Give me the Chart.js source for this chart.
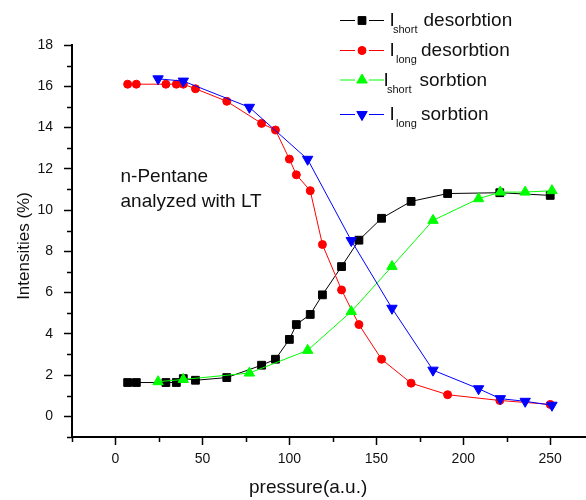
<!DOCTYPE html>
<html>
<head>
<meta charset="utf-8">
<script src="https://cdn.jsdelivr.net/npm/chart.js@4/dist/chart.umd.min.js"></script>
<style>
html, body { margin: 0; padding: 0; background: #fff; }
</style>
</head>
<body>
<canvas id="graficoPentano" width="586" height="500"></canvas>
<script>
/* ── DATA ── */
var presionDesorcion = [7, 12, 29, 35, 39, 46, 64, 84, 92, 100, 104, 112, 119, 130, 140, 153, 170, 191, 221, 250];
var cortoDesorcion   = [1.64, 1.64, 1.64, 1.64, 1.83, 1.75, 1.88, 2.48, 2.77, 3.73, 4.45, 4.94, 5.89, 7.26, 8.54, 9.6, 10.42, 10.8, 10.84, 10.71];
var largoDesorcion   = [16.1, 16.1, 16.1, 16.1, 16.1, 15.88, 15.27, 14.2, 13.88, 12.47, 11.71, 10.94, 8.33, 6.13, 4.45, 2.77, 1.61, 1.05, 0.77, 0.58];

var presionSorcion = [24.5, 39, 77, 110.5, 135.6, 159, 182.6, 208.8, 221.3, 235.6, 251];
var cortoSorcion   = [1.68, 1.79, 2.1, 3.2, 5.08, 7.27, 9.5, 10.55, 10.87, 10.87, 10.94];
var largoSorcion   = [16.36, 16.25, 14.98, 12.46, 8.52, 5.24, 2.24, 1.34, 0.86, 0.73, 0.54];

var ticksX = [-25, 0, 25, 50, 75, 100, 125, 150, 175, 200, 225, 250];

var nombresSeries = ['desorbtion', 'desorbtion', 'sorbtion', 'sorbtion'];
var subindices    = ['short', 'long', 'short', 'long'];
var notaTexto     = ['n-Pentane', 'analyzed with LT'];

var FUENTE = "'Liberation Sans', Arial, Helvetica, sans-serif";

function puntos(xs, ys) {
    return xs.map(function (x, i) { return { x: x, y: ys[i] }; });
}

/* ── estilos de la leyenda (posiciones medidas a mano) ── */
var leyenda = [
    { color: '#000000', estilo: 'rect',     radio: 5.5, rot: 0,   yLinea: 20,   base: 26,  xI: 389.5, xSub: 393,   xTxt: 423.5 },
    { color: '#ff0000', estilo: 'circle',   radio: 4,   rot: 0,   yLinea: 50,   base: 56,  xI: 389.5, xSub: 396,   xTxt: 421 },
    { color: '#00ff00', estilo: 'triangle', radio: 6,   rot: 0,   yLinea: 79.5, base: 86,  xI: 383.5, xSub: 387,   xTxt: 419.5 },
    { color: '#0000ff', estilo: 'triangle', radio: 6,   rot: 180, yLinea: 114,  base: 120, xI: 389.5, xSub: 396,   xTxt: 421 }
];

/* ── PLUGIN: ticks menores, títulos, nota y leyenda ── */
var extras = {
    id: 'extras',
    afterDraw: function (chart) {
        var ctx = chart.ctx;
        var sx = chart.scales.x, sy = chart.scales.y;
        var area = chart.chartArea;
        ctx.save();

        // ticks menores
        ctx.strokeStyle = '#000';
        ctx.lineWidth = 1.5;
        ctx.beginPath();
        sx.ticks.forEach(function (t) {
            if (t.value % 50 !== 0) {
                var px = Math.round(sx.getPixelForValue(t.value)) + 0.5;
                ctx.moveTo(px, area.bottom);
                ctx.lineTo(px, area.bottom + 5);
            }
        });
        sy.ticks.forEach(function (t) {
            if (t.value % 2 !== 0) {
                var py = Math.round(sy.getPixelForValue(t.value)) + 0.5;
                ctx.moveTo(area.left, py);
                ctx.lineTo(area.left - 5, py);
            }
        });
        ctx.stroke();

        // títulos de ejes
        ctx.fillStyle = '#111';
        ctx.textBaseline = 'alphabetic';
        ctx.textAlign = 'left';
        ctx.font = '19px ' + FUENTE;
        ctx.fillText('pressure(a.u.)', 249, 493);

        ctx.save();
        ctx.translate(29, 246);
        ctx.rotate(-Math.PI / 2);
        ctx.textAlign = 'center';
        ctx.font = '17px ' + FUENTE;
        ctx.fillText('Intensities (%)', 0, 0);
        ctx.restore();

        // nota
        ctx.font = '19px ' + FUENTE;
        ctx.fillText(notaTexto[0], 120.5, 182);
        ctx.fillText(notaTexto[1], 120.5, 207);

        // leyenda
        leyenda.forEach(function (l, i) {
            ctx.strokeStyle = l.color;
            ctx.lineWidth = 1;
            ctx.beginPath();
            ctx.moveTo(340, l.yLinea + 0.5);
            ctx.lineTo(355, l.yLinea + 0.5);
            ctx.moveTo(369, l.yLinea + 0.5);
            ctx.lineTo(384, l.yLinea + 0.5);
            ctx.stroke();
            ctx.fillStyle = l.color;
            Chart.helpers.drawPoint(ctx, { pointStyle: l.estilo, radius: l.radio, rotation: l.rot, borderWidth: 1 }, 362, l.yLinea + 0.5);
            ctx.fill();

            ctx.fillStyle = '#111';
            ctx.font = '19px ' + FUENTE;
            ctx.fillText('I', l.xI, l.base);
            ctx.fillText(nombresSeries[i], l.xTxt, l.base);
            ctx.font = '11px ' + FUENTE;
            ctx.fillText(subindices[i], l.xSub, l.base + 7);
        });

        ctx.restore();
    }
};

function serie(etiqueta, datos, color, estilo, radio, rot, orden) {
    return {
        label: etiqueta,
        data: datos,
        borderColor: color,
        backgroundColor: color,
        borderWidth: 1,
        tension: 0,
        pointStyle: estilo,
        pointRadius: radio,
        pointRotation: rot,
        pointBorderWidth: 1,
        pointBorderColor: color,
        pointBackgroundColor: color,
        order: orden
    };
}

var ctx = document.getElementById('graficoPentano');
new Chart(ctx, {
    type: 'line',
    data: {
        datasets: [
            serie('I short desorbtion', puntos(presionDesorcion, cortoDesorcion), '#000000', 'rect', 5.5, 0, 3),
            serie('I long desorbtion',  puntos(presionDesorcion, largoDesorcion), '#ff0000', 'circle', 4, 0, 2),
            serie('I short sorbtion',   puntos(presionSorcion, cortoSorcion),     '#00ff00', 'triangle', 6, 0, 1),
            serie('I long sorbtion',    puntos(presionSorcion, largoSorcion),     '#0000ff', 'triangle', 6, 180, 0)
        ]
    },
    options: {
        responsive: false,
        animation: false,
        layout: { autoPadding: false, padding: { top: 45, right: 1, left: 0, bottom: 0 } },
        plugins: { legend: { display: false }, tooltip: { enabled: false } },
        scales: {
            x: {
                type: 'linear',
                min: -25, max: 270,
                afterBuildTicks: function (s) { s.ticks = ticksX.map(function (v) { return { value: v }; }); },
                afterFit: function (s) { s.height = 63; s.paddingLeft = 0; s.paddingRight = 0; },
                ticks: {
                    stepSize: 25, autoSkip: false, maxRotation: 0, padding: 6, color: '#111',
                    font: { family: FUENTE, size: 14 },
                    callback: function (v) { return v % 50 === 0 ? v : ''; }
                },
                grid: {
                    drawOnChartArea: false, tickLength: 8, tickWidth: 1.5,
                    tickColor: function (c) { return c.tick && c.tick.value % 50 === 0 ? '#000' : 'rgba(0,0,0,0)'; }
                },
                border: { color: '#000', width: 2 }
            },
            y: {
                min: -1, max: 18,
                afterFit: function (s) { s.width = 72; s.paddingTop = 0; s.paddingBottom = 0; },
                ticks: {
                    stepSize: 1, autoSkip: false, padding: 11, color: '#111',
                    font: { family: FUENTE, size: 14 },
                    callback: function (v) { return v % 2 === 0 ? v : ''; }
                },
                grid: {
                    drawOnChartArea: false, tickLength: 8, tickWidth: 1.5,
                    tickColor: function (c) { return c.tick && c.tick.value % 2 === 0 ? '#000' : 'rgba(0,0,0,0)'; }
                },
                border: { color: '#000', width: 2 }
            }
        }
    },
    plugins: [extras]
});
</script>
</body>
</html>
